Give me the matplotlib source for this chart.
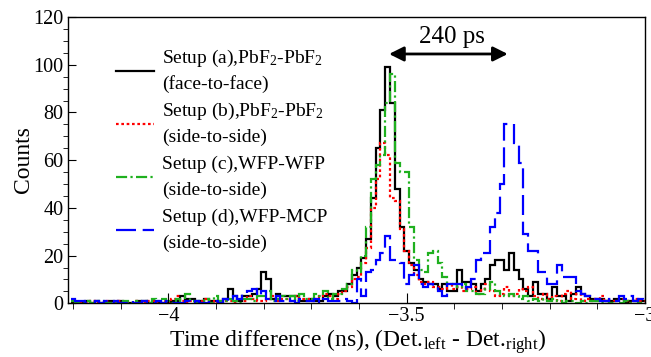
import numpy as np
import matplotlib
matplotlib.use('Agg')
import matplotlib.pyplot as plt
from matplotlib.ticker import MultipleLocator

plt.rcParams['font.family'] = 'Liberation Serif'
plt.rcParams['mathtext.fontset'] = 'custom'
plt.rcParams['mathtext.rm'] = 'Liberation Serif'
plt.rcParams['mathtext.it'] = 'Liberation Serif:italic'

# histogram contents, 0.01 ns bins starting at -4.205 ns
bin_start = -4.205
bin_width = 0.01

setup_a = ([0,0,0,1,0,1,0,0,1,0,1,0,0,0,1,1,0,0,0,0]
           + [0,1,1,3,2,2,1,1,2,1,1,0,2,6,3,1,3,3,4,6]
           + [13,10,2,4,3,3,3,3,1,1,2,1,1,3,4,3]
           + [5,5,8,12,15,19,27,44,65,81,99,84,48,32,22,17,14]
           + [10,9,8,8,6,8,5,5,14,9,9,8,5,8,10,16,18,18,14,21,14,10,6,3]
           + [9,4,4,2,7,3,3,1,4,7,4,3,2,2,2,1,1,2,2,0,1,1,1,1])
setup_b = ([1,0,0,0,1,0,0,1,0,0,1,0,0,1,0,0,1,1,0,1]
           + [0,2,3,1,0,1,0,1,2,1,0,1,1,1,0,2,1,3,2,1]
           + [1,2,3,1,2,2,1,3,2,2,1,2,3,4,3,2]
           + [4,5,7,10,11,17,23,40,52,67,62,44,43,31,22,16,12]
           + [9,8,9,7,7,6,8,6,7,5,6,7,4,6,8,5,3,4,7,3,4,6,5,7]
           + [3,2,4,2,3,1,4,5,2,4,1,2,1,2,3,1,0,1,2,1,0,2,1,1])
setup_c = ([1,0,0,1,0,1,1,0,0,0,0,1,0,1,0,1,0,2,1,2]
           + [1,0,2,0,4,1,0,1,2,0,3,1,1,2,1,0,2,2,1,3]
           + [3,5,1,2,3,2,3,1,4,2,2,4,3,5,2,4]
           + [4,6,8,14,13,20,32,52,58,62,84,96,59,55,55,32,18]
           + [14,13,21,22,17,11,8,8,7,8,5,5,4,4,6,9,5,4,3,4,3,2,3,1]
           + [2,1,2,1,2,1,0,1,1,0,1,0,1,1,0,1,0,1,0,1,0,1,0,0])
setup_d = ([2,1,1,0,0,1,0,1,0,1,0,0,1,0,0,1,0,0,1,0]
           + [1,0,0,0,1,0,1,0,0,1,1,0,2,1,3,2,4,5,6,3]
           + [5,2,1,3,1,2,1,0,2,1,1,2,0,2,1,1]
           + [1,2,1,0,10,3,13,14,18,21,28,18,18,17,8,12,16]
           + [8,7,8,7,5,3,8,8,8,6,7,10,18,21,21,32,38,50,75,75,67,59,29,22]
           + [22,13,13,8,8,16,11,11,11,5,4,3,2,2,1,1,2,1,3,2,3,1,2,1])

labels = [('Setup (a),PbF$_2$-PbF$_2$', '(face-to-face)'),
          ('Setup (b),PbF$_2$-PbF$_2$', '(side-to-side)'),
          ('Setup (c),WFP-WFP', '(side-to-side)'),
          ('Setup (d),WFP-MCP', '(side-to-side)')]
colors = ['black', '#ff0000', '#1fb01f', '#0000ff']
styles = ['-', (0, (1.2, 1.2)), (0, (5, 1.5, 1, 1.5)), (0, (9, 3))]

edges = bin_start + bin_width * np.arange(len(setup_a) + 1)

fig = plt.figure(figsize=(6.51, 3.57), dpi=100)
ax = fig.add_axes([68.3/651, 1-303.3/357, (645-68.3)/651, (303.3-17)/357])

for vals, c, ls in zip([setup_a, setup_b, setup_c, setup_d], colors, styles):
    ax.stairs(vals, edges, color=c, linestyle=ls, lw=1.6, baseline=None)

ax.set_xlim(-4.21, -3.0)
ax.set_ylim(0, 120)
ax.set_xticks([-4, -3.5, -3])
ax.set_xticklabels(['\u22124', '\u22123.5', '\u22123'])
ax.xaxis.set_minor_locator(MultipleLocator(0.1))
ax.set_yticks([0, 20, 40, 60, 80, 100, 120])
ax.yaxis.set_minor_locator(MultipleLocator(5))
ax.tick_params(direction='in', labelsize=14.5, top=False, right=False)
ax.tick_params(axis='x', which='major', length=7, pad=3)
ax.tick_params(axis='x', which='minor', length=4)
ax.tick_params(axis='y', which='major', length=6, pad=3.5)
ax.tick_params(axis='y', which='minor', length=3.5)
for s in ax.spines.values():
    s.set_linewidth(1.0)

# legend drawn by hand: line sample + two text lines per entry
for j, (l1, l2) in enumerate(labels):
    py = 70.7 + 53.1 * j
    fy = (303.3 - py) / 286.3
    ax.plot([(115.7-68.3)/576.7, (154-68.3)/576.7], [fy, fy], transform=ax.transAxes,
            color=colors[j], linestyle=styles[j], lw=1.6)
    tx = (162 - 68.3) / 576.7
    ax.text(tx, (303.3 - (py - 8)) / 286.3, l1, transform=ax.transAxes,
            fontsize=14, va='baseline', ha='left')
    ax.text(tx, (303.3 - (py + 18.4)) / 286.3, l2, transform=ax.transAxes,
            fontsize=14, va='baseline', ha='left')

# 240 ps arrow between the two peaks
ax.annotate('', xy=(-3.288, 104.5), xytext=(-3.537, 104.5),
            arrowprops=dict(arrowstyle='<|-|>', color='black', lw=2, mutation_scale=22,
                            shrinkA=0, shrinkB=0))
ax.text(-3.406, 109.2, '240 ps', fontsize=18, ha='center', va='baseline')

fig.text(23/651, 1-160/357, 'Counts', rotation=90, fontsize=17, ha='center', va='center')
fig.text(357.8/651, 1-346.7/357,
         'Time difference (ns), (Det.$_{\\rm left}$ - Det.$_{\\rm right}$)',
         fontsize=17, ha='center', va='baseline')

fig.savefig('out.png', dpi=100)
